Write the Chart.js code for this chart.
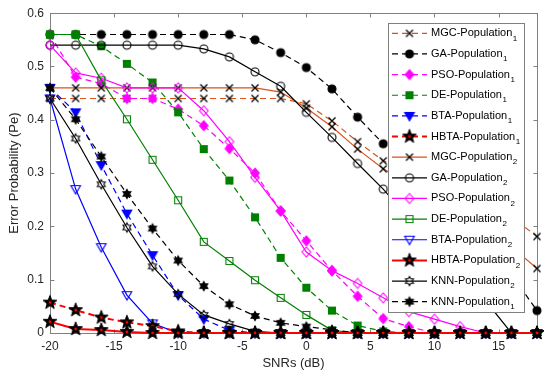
<!DOCTYPE html>
<html>
<head>
<meta charset="utf-8">
<script src="https://cdn.jsdelivr.net/npm/chart.js@4.4.0/dist/chart.umd.min.js"></script>
<style>
  html, body { margin: 0; padding: 0; background: #fff; }
  #wrap { width: 550px; height: 375px; }
</style>
</head>
<body>
<div id="wrap"><canvas id="errChart" width="550" height="375"></canvas></div>
<script>
  // ===================== DATA =====================
  const snr = [-20, -18, -16, -14, -12, -10, -8, -6, -4, -2, 0, 2, 4, 6, 8, 10, 12, 14, 16, 18];
  const xTicks = [-20, -15, -10, -5, 0, 5, 10, 15];
  const yTicks = [0, 0.1, 0.2, 0.3, 0.4, 0.5, 0.6];

  const mgcPop1  = [0.44, 0.44, 0.44, 0.44, 0.44, 0.44, 0.44, 0.44, 0.44, 0.44, 0.43, 0.398, 0.359, 0.323, 0.302, 0.281, 0.26, 0.239, 0.218, 0.181];
  const gaPop1   = [0.56, 0.56, 0.56, 0.56, 0.56, 0.56, 0.56, 0.56, 0.55, 0.526, 0.498, 0.458, 0.405, 0.355, 0.30, 0.25, 0.20, 0.155, 0.11, 0.042];
  const psoPop1  = [0.56, 0.48, 0.468, 0.44, 0.44, 0.42, 0.389, 0.346, 0.30, 0.229, 0.173, 0.117, 0.069, 0.027, 0.012, 0, 0, 0, 0, 0];
  const dePop1   = [0.56, 0.56, 0.538, 0.505, 0.47, 0.414, 0.345, 0.286, 0.217, 0.141, 0.085, 0.042, 0.014, 0.003, 0, 0, 0, 0, 0, 0];
  const btaPop1  = [0.46, 0.414, 0.315, 0.224, 0.146, 0.071, 0.026, 0.005, 0, 0, 0, 0, 0, 0, 0, 0, 0, 0, 0, 0];
  const hbtaPop1 = [0.057, 0.043, 0.029, 0.02, 0.013, 0.003, 0, 0, 0, 0, 0, 0, 0, 0, 0, 0, 0, 0, 0, 0];
  const mgcPop2  = [0.46, 0.46, 0.46, 0.46, 0.46, 0.46, 0.46, 0.46, 0.46, 0.452, 0.422, 0.387, 0.345, 0.308, 0.279, 0.25, 0.22, 0.191, 0.162, 0.121];
  const gaPop2   = [0.54, 0.54, 0.54, 0.54, 0.54, 0.54, 0.533, 0.518, 0.49, 0.463, 0.414, 0.367, 0.318, 0.27, 0.215, 0.16, 0.11, 0.06, 0, 0];
  const psoPop2  = [0.54, 0.488, 0.478, 0.46, 0.46, 0.46, 0.417, 0.359, 0.292, 0.229, 0.152, 0.117, 0.093, 0.066, 0.040, 0.026, 0.012, 0, 0, 0];
  const dePop2   = [0.56, 0.56, 0.474, 0.401, 0.325, 0.249, 0.171, 0.135, 0.099, 0.066, 0.034, 0.005, 0, 0, 0, 0, 0, 0, 0, 0];
  const btaPop2  = [0.44, 0.27, 0.161, 0.071, 0.018, 0, 0, 0, 0, 0, 0, 0, 0, 0, 0, 0, 0, 0, 0, 0];
  const hbtaPop2 = [0.021, 0.0075, 0.0056, 0.002, 0, 0, 0, 0, 0, 0, 0, 0, 0, 0, 0, 0, 0, 0, 0, 0];
  const knnPop2  = [0.44, 0.365, 0.279, 0.198, 0.125, 0.073, 0.034, 0.017, 0.003, 0, 0, 0, 0, 0, 0, 0, 0, 0, 0, 0];
  const knnPop1  = [0.46, 0.401, 0.331, 0.261, 0.196, 0.136, 0.088, 0.054, 0.032, 0.019, 0.012, 0.006, 0, 0, 0, 0, 0, 0, 0, 0];

  // ===================== MARKERS (small offscreen canvases) =====================
  const C = { orange: "#D95319", black: "#000000", magenta: "#FF00FF", green: "#008000", blue: "#0000FF", red: "#FF0000" };

  function starPath(ctx, cx, cy, n, rOut, rIn) {
    ctx.beginPath();
    for (let i = 0; i < n * 2; i++) {
      const r = i % 2 ? rIn : rOut;
      const a = -Math.PI / 2 + i * Math.PI / n;
      const px = cx + r * Math.cos(a), py = cy + r * Math.sin(a);
      i ? ctx.lineTo(px, py) : ctx.moveTo(px, py);
    }
    ctx.closePath();
  }

  function makeMarker(kind, color, filled) {
    const cv = document.createElement("canvas");
    cv.width = 18; cv.height = 18;
    const ctx = cv.getContext("2d");
    const c = 9;
    ctx.strokeStyle = color; ctx.fillStyle = color; ctx.lineWidth = 1.1;
    ctx.beginPath();
    if (kind === "x") {
      ctx.moveTo(c - 3.5, c - 3.5); ctx.lineTo(c + 3.5, c + 3.5);
      ctx.moveTo(c + 3.5, c - 3.5); ctx.lineTo(c - 3.5, c + 3.5);
      ctx.lineWidth = 1.3; ctx.stroke();
      return cv;
    }
    if (kind === "circle") ctx.arc(c, c, 4, 0, Math.PI * 2);
    if (kind === "diamond") { ctx.moveTo(c, c - 5); ctx.lineTo(c + 4.3, c); ctx.lineTo(c, c + 5); ctx.lineTo(c - 4.3, c); ctx.closePath(); }
    if (kind === "square") ctx.rect(c - 3.5, c - 3.5, 7, 7);
    if (kind === "tri") { ctx.moveTo(c - 4.8, c - 3.5); ctx.lineTo(c + 4.8, c - 3.5); ctx.lineTo(c, c + 4.8); ctx.closePath(); }
    if (kind === "hex") starPath(ctx, c, c, 6, 4.6, 2.6);
    if (kind === "penta") {
      starPath(ctx, c, c, 5, 7.2, 3.0);
      ctx.fill(); ctx.lineWidth = 1; ctx.stroke();
      ctx.beginPath(); ctx.fillStyle = C.red; ctx.arc(c, c, 1.4, 0, Math.PI * 2); ctx.fill();
      return cv;
    }
    if (filled) ctx.fill();
    ctx.stroke();
    return cv;
  }

  // ===================== SERIES =====================
  const series = [
    { name: "MGC-Population",  sub: "1", data: mgcPop1,  color: C.orange,  dash: true,  marker: makeMarker("x", C.black) },
    { name: "GA-Population",   sub: "1", data: gaPop1,   color: C.black,   dash: true,  marker: makeMarker("circle", C.black, true) },
    { name: "PSO-Population",  sub: "1", data: psoPop1,  color: C.magenta, dash: true,  marker: makeMarker("diamond", C.magenta, true) },
    { name: "DE-Population",   sub: "1", data: dePop1,   color: C.green,   dash: true,  marker: makeMarker("square", C.green, true) },
    { name: "BTA-Population",  sub: "1", data: btaPop1,  color: C.blue,    dash: true,  marker: makeMarker("tri", C.blue, true) },
    { name: "HBTA-Population", sub: "1", data: hbtaPop1, color: C.red,     dash: true,  marker: makeMarker("penta", C.black), width: 2 },
    { name: "MGC-Population",  sub: "2", data: mgcPop2,  color: C.orange,  dash: false, marker: makeMarker("x", C.black) },
    { name: "GA-Population",   sub: "2", data: gaPop2,   color: C.black,   dash: false, marker: makeMarker("circle", C.black, false) },
    { name: "PSO-Population",  sub: "2", data: psoPop2,  color: C.magenta, dash: false, marker: makeMarker("diamond", C.magenta, false) },
    { name: "DE-Population",   sub: "2", data: dePop2,   color: C.green,   dash: false, marker: makeMarker("square", C.green, false) },
    { name: "BTA-Population",  sub: "2", data: btaPop2,  color: C.blue,    dash: false, marker: makeMarker("tri", C.blue, false) },
    { name: "HBTA-Population", sub: "2", data: hbtaPop2, color: C.red,     dash: false, marker: makeMarker("penta", C.black), width: 2 },
    { name: "KNN-Population",  sub: "2", data: knnPop2,  color: C.black,   dash: false, marker: makeMarker("hex", C.black, false) },
    { name: "KNN-Population",  sub: "1", data: knnPop1,  color: C.black,   dash: true,  marker: makeMarker("hex", C.black, true) },
  ];

  // HBTA drawn on top, otherwise later entries on top (like the original plot)
  const datasets = series.map((s, i) => ({
    label: s.name + s.sub,
    data: snr.map((x, k) => ({ x, y: s.data[k] })),
    borderColor: s.color,
    borderWidth: s.width || 1.2,
    borderDash: s.dash ? [6, 4] : [],
    pointStyle: s.marker,
    pointRadius: 5,
    pointHoverRadius: 5,
    tension: 0,
    fill: false,
    clip: false,
    order: s.name.startsWith("HBTA") ? -3 + Number(s.sub) * -1 : 20 - i,
  }));

  // ===================== PLUGINS =====================
  const FONT = '"Liberation Sans", Arial, Helvetica, sans-serif';

  // axes box with MATLAB-like inward ticks on all four sides
  const boxAxes = {
    id: "boxAxes",
    beforeDatasetsDraw(chart) {
      const { ctx, chartArea: a, scales: { x, y } } = chart;
      const L = Math.round(a.left) + 0.5, R = Math.round(a.right) + 0.5;
      const T = Math.round(a.top) + 0.5, B = Math.round(a.bottom) + 0.5;
      ctx.save();
      ctx.strokeStyle = "#808080"; ctx.lineWidth = 1;
      ctx.strokeRect(L, T, R - L, B - T);
      ctx.beginPath();
      xTicks.forEach(v => {
        const px = Math.round(x.getPixelForValue(v)) + 0.5;
        ctx.moveTo(px, B); ctx.lineTo(px, B - 4);
        ctx.moveTo(px, T); ctx.lineTo(px, T + 4);
      });
      yTicks.forEach(v => {
        const py = Math.round(y.getPixelForValue(v)) + 0.5;
        ctx.moveTo(L, py); ctx.lineTo(L + 4, py);
        ctx.moveTo(R, py); ctx.lineTo(R - 4, py);
      });
      ctx.stroke();
      ctx.restore();
    }
  };

  // legend box drawn inside the plot, with subscripts
  const boxLegend = {
    id: "boxLegend",
    afterDraw(chart) {
      const { ctx } = chart;
      const bx = 388, by = 23, bw = 136, bh = 289;
      const row = bh / series.length;
      ctx.save();
      ctx.fillStyle = "#fff";
      ctx.fillRect(bx, by, bw, bh);
      ctx.strokeStyle = "#808080"; ctx.lineWidth = 1;
      ctx.strokeRect(bx + 0.5, by + 0.5, bw, bh);
      series.forEach((s, i) => {
        const cy = by + row * (i + 0.5);
        ctx.beginPath();
        ctx.strokeStyle = s.color;
        ctx.lineWidth = s.width || 1.2;
        ctx.setLineDash(s.dash ? [6, 4] : []);
        ctx.moveTo(392, cy); ctx.lineTo(427, cy);
        ctx.stroke();
        ctx.setLineDash([]);
        ctx.drawImage(s.marker, 409.5 - s.marker.width / 2, cy - s.marker.height / 2);
        ctx.fillStyle = "#000";
        ctx.textBaseline = "middle";
        ctx.font = "11px " + FONT;
        ctx.fillText(s.name, 431, cy);
        const w = ctx.measureText(s.name).width;
        ctx.font = "8px " + FONT;
        ctx.fillText(s.sub, 431 + w + 0.5, cy + 5);
      });
      ctx.restore();
    }
  };

  // ===================== CHART =====================
  new Chart(document.getElementById("errChart").getContext("2d"), {
    type: "line",
    data: { datasets },
    plugins: [boxAxes, boxLegend],
    options: {
      responsive: false,
      animation: false,
      layout: { padding: { top: 12, right: 13, left: 0, bottom: 0 } },
      plugins: { legend: { display: false }, tooltip: { enabled: false } },
      scales: {
        x: {
          type: "linear", min: -20, max: 18,
          afterBuildTicks: s => { s.ticks = xTicks.map(v => ({ value: v })); },
          afterFit: s => { s.height = 42; },
          grid: { display: false, drawTicks: false },
          border: { display: false },
          ticks: { padding: 6, color: "#262626", font: { family: FONT, size: 12 }, maxRotation: 0, autoSkip: false, callback: v => String(v) },
          title: { display: true, text: "SNRs (dB)", color: "#262626", font: { family: FONT, size: 13 }, padding: 4 }
        },
        y: {
          type: "linear", min: 0, max: 0.6,
          afterBuildTicks: s => { s.ticks = yTicks.map(v => ({ value: v })); },
          afterFit: s => { s.width = 50; },
          grid: { display: false, drawTicks: false },
          border: { display: false },
          ticks: { padding: 6, color: "#262626", font: { family: FONT, size: 12 }, callback: v => (v === 0 ? "0" : v.toFixed(1)) },
          title: { display: true, text: "Error Probability (Pe)", color: "#262626", font: { family: FONT, size: 13 }, padding: 7 }
        }
      }
    }
  });
</script>
</body>
</html>
